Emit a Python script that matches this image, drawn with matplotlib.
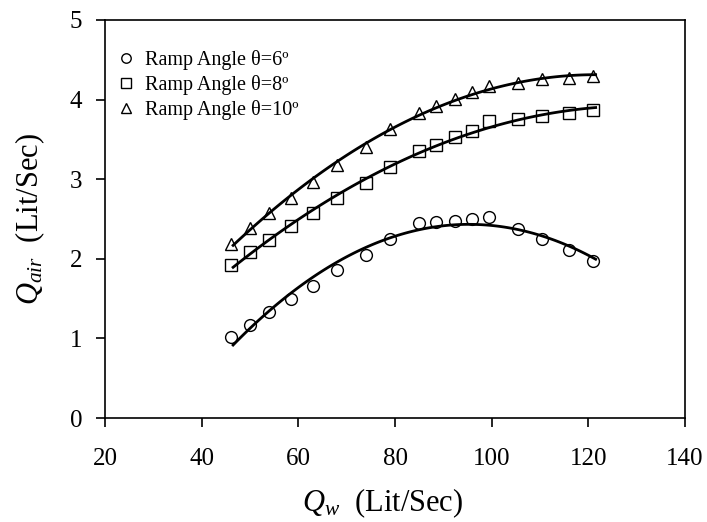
import matplotlib.pyplot as plt
import numpy as np

plt.rcParams['font.family'] = ['Liberation Serif', 'DejaVu Serif']
plt.rcParams['mathtext.fontset'] = 'custom'
plt.rcParams['mathtext.rm'] = 'Liberation Serif'
plt.rcParams['mathtext.it'] = 'Liberation Serif:italic'

# water discharge (Lit/Sec)
qw = [46, 50, 54, 58.5, 63, 68, 74, 79, 85, 88.5, 92.5, 96, 99.5, 105.5, 110.5, 116, 121]

# air discharge for each ramp angle
q_air_6 = [1.02, 1.17, 1.33, 1.49, 1.66, 1.86, 2.05, 2.25, 2.45, 2.46, 2.48, 2.50, 2.52, 2.37, 2.25, 2.11, 1.97]
q_air_8 = [1.92, 2.08, 2.24, 2.41, 2.57, 2.76, 2.95, 3.15, 3.35, 3.43, 3.53, 3.61, 3.73, 3.76, 3.80, 3.83, 3.87]
q_air_10 = [2.19, 2.39, 2.57, 2.76, 2.97, 3.18, 3.40, 3.63, 3.83, 3.92, 4.01, 4.10, 4.17, 4.21, 4.26, 4.27, 4.30]

series = [
    (q_air_6, 'o', 'Ramp Angle θ=6º'),
    (q_air_8, 's', 'Ramp Angle θ=8º'),
    (q_air_10, '^', 'Ramp Angle θ=10º'),
]

fig = plt.figure(figsize=(7.07, 5.22), dpi=100)
ax = fig.add_axes([0.1485, 0.1992, 0.8205, 0.7625])

x = np.array(qw)
xs = np.linspace(46.5, 121.5, 100)
for y, m, lab in series:
    ax.plot(x, y, m, mfc='none', mec='black', mew=1.0, ms=8.5, label=lab, ls='none')
    # polynomial trend line through the points
    coef = np.polyfit(x, y, 2)
    ax.plot(xs, np.polyval(coef, xs), color='black', lw=2.0, zorder=1)

ax.set_xlim(20, 140)
ax.set_ylim(0, 5)
ax.set_xticks([20, 40, 60, 80, 100, 120, 140])
ax.set_yticks([0, 1, 2, 3, 4, 5])
ax.tick_params(direction='out', length=6.5, width=1.2, labelsize=18)
ax.tick_params(axis='x', pad=15)
ax.tick_params(axis='y', pad=10)
for s in ax.spines.values():
    s.set_linewidth(1.2)

ax.set_xlabel(r'$Q_w$  (Lit/Sec)', fontsize=22, labelpad=12, x=0.478)
ax.set_ylabel(r'$Q_{air}$  (Lit/Sec)', fontsize=22, labelpad=16)

ax.legend(loc='upper left', bbox_to_anchor=(0.002, 0.945), frameon=False,
          fontsize=14.5, handletextpad=0.35, handlelength=1.2, borderaxespad=0,
          labelspacing=0.25, markerscale=0.8)

fig.savefig('out.png', dpi=100)
